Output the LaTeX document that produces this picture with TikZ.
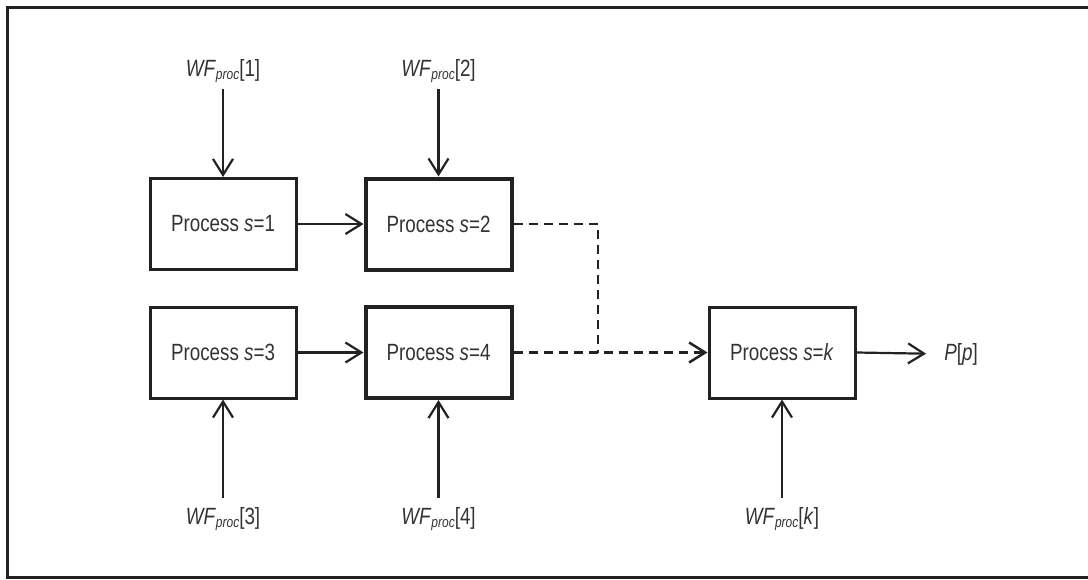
\documentclass[tikz,border=0pt]{standalone}
\usepackage{fontspec}
\setmainfont{Liberation Sans}[FakeStretch=0.8]
\usetikzlibrary{arrows.meta}
\definecolor{ink}{HTML}{222222}
\definecolor{txt}{HTML}{333333}
\newcommand{\wfp}[1]{\textit{WF}\raisebox{-0.25ex}{\fontsize{15}{15}\selectfont\itshape proc}[#1]}
\begin{document}
\begin{tikzpicture}[x=1pt,y=-1pt,
  font=\fontsize{23.5}{25}\selectfont, text=txt,
  procbox/.style={draw=ink, line width=3pt, minimum width=146pt, minimum height=91pt, inner sep=0pt},
  heavybox/.style={procbox, line width=4pt},
  lbl/.style={inner sep=0pt},
  flow/.style={draw=ink, line width=2.2pt, -{Straight Barb[length=16pt,width=20pt]}},
  link/.style={draw=ink, line width=2.5pt, dash pattern=on 9pt off 6pt},
  linkarrow/.style={link, -{Straight Barb[length=16pt,width=20pt,line width=2.5pt]}}]
\useasboundingbox (0,0) rectangle (1088,579);
\clip (0,0) rectangle (1088,579);
% outer frame
\draw[ink, line width=3pt] (1100,7) -- (7,7) -- (7,577) -- (1100,577);

% process boxes
\node[procbox]  (b1) at (223,224)   {Process \textit{s}=1};
\node[heavybox] (b2) at (438.5,224) {Process \textit{s}=2};
\node[procbox]  (b3) at (223,352.5) {Process \textit{s}=3};
\node[heavybox] (b4) at (438.5,352.5) {Process \textit{s}=4};
\node[procbox]  (bk) at (782,352.5) {Process \textit{s}=\textit{k}};

% workflow inputs and output
\node[lbl] (w1) at (223,71)  {\wfp{1}};
\node[lbl] (w2) at (438.5,71) {\wfp{2}};
\node[lbl] (w3) at (223,519) {\wfp{3}};
\node[lbl] (w4) at (438.5,519) {\wfp{4}};
\node[lbl] (wk) at (782,519) {\wfp{\textit{k}}};
\node[lbl] (out) at (961,354) {\textit{P}[\textit{p}]};
\coordinate (bend) at (598,352.5);

\draw[flow, shorten <=6pt] (w1.south) -- (b1.north);
\draw[flow, shorten <=6pt] (w2.south) -- (b2.north);
\draw[flow, shorten <=9pt] (w3.north) -- (b3.south);
\draw[flow, shorten <=9pt] (w4.north) -- (b4.south);
\draw[flow, shorten <=9pt] (wk.north) -- (bk.south);

\draw[flow] (b1.east) -- (b2.west);
\draw[flow] (b3.east) -- (b4.west);
\draw[flow, shorten >=18pt] (bk.east) -- (out.west);

\draw[link] (b2.east) -| (bend);
\draw[linkarrow] (b4.east) -- (bk.west);
\end{tikzpicture}
\end{document}
